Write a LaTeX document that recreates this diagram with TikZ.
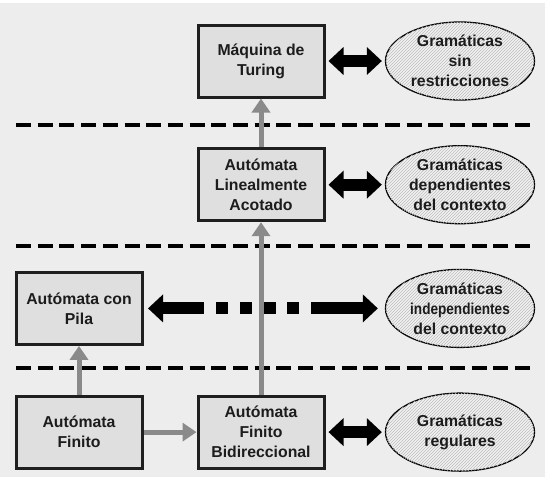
\documentclass[tikz,border=0pt]{standalone}
\usepackage{fontspec}
\setmainfont{Liberation Sans}
\usepackage{graphicx}
\usetikzlibrary{positioning,shapes.geometric,arrows.meta,patterns}

\definecolor{fondo}{HTML}{EDEDED}
\definecolor{relleno}{HTML}{DFDFDF}
\definecolor{borde}{HTML}{1F1F1F}
\definecolor{flecha}{HTML}{8A8A8A}
\definecolor{elipse}{HTML}{F2F2F2}
\definecolor{rayado}{HTML}{BDBDBD}
\definecolor{texto}{HTML}{1C1C1C}

\begin{document}
\begin{tikzpicture}[x=1pt, y=-1pt, node distance=123.7pt,
		caja/.style={rectangle,draw=borde,line width=3pt,fill=relleno,
			minimum width=126pt,minimum height=72pt,align=center,text=texto,
			font=\bfseries\fontsize{15.8}{20}\selectfont},
		gramatica/.style={ellipse,draw=black,line width=1.3pt,fill=elipse,
			postaction={pattern=north east lines,pattern color=rayado},
			minimum width=149pt,minimum height=78pt,inner xsep=0pt,inner ysep=-6pt,
			align=center,text=texto,font=\bfseries\fontsize{15.8}{20}\selectfont},
		sube/.style={draw=flecha,line width=5pt,-{Triangle[length=14pt,width=18pt]}},
		equiv/.style={draw=black,line width=12pt,
			{Triangle[length=15pt,width=27pt]}-{Triangle[length=15pt,width=27pt]},
			shorten <=3pt,shorten >=3pt},
		nivel/.style={draw=black,line width=3.5pt,dash pattern=on 15pt off 6.7pt}]

	% fondo
	\useasboundingbox (0,0) rectangle (545,480);
	\fill[white] (0,0) rectangle (545,480);
	\fill[fondo] (0,3) rectangle (545,477);

	% automatas
	\node[caja] (mt) at (261,61) {M\'aquina de\\Turing};
	\node[caja] (ala) [below of=mt] {Aut\'omata\\Linealmente\\Acotado};
	\node[caja] (afb) [below of=ala, node distance=247.4pt] {Aut\'omata\\Finito\\Bidireccional};
	\node[caja] (af) [left of=afb, node distance=182pt] {Aut\'omata\\Finito};
	\node[caja] (ap) [above of=af] {Aut\'omata con\\Pila};

	% gramaticas
	\node[gramatica] (g1) [right of=mt, node distance=199pt] {Gram\'aticas\\sin\\restricciones};
	\node[gramatica] (g2) [right of=ala, node distance=199pt] {Gram\'aticas\\dependientes\\del contexto};
	\node[gramatica] (g3) [right of=ap, node distance=381pt] {Gram\'aticas\\\scalebox{0.86}[1]{independientes}\\del contexto};
	\node[gramatica] (g4) [right of=afb, node distance=199pt] {Gram\'aticas\\regulares};

	% niveles
	\foreach \y in {125,246,368}
		\draw[nivel] (16,\y) -- (532,\y);

	% equivalencias
	\draw[equiv] (mt) -- (g1);
	\draw[equiv] (ala) -- (g2);
	\draw[equiv] (afb) -- (g4);
	\draw[equiv, shorten <=4.5pt, shorten >=7pt,
		dash pattern=on 42pt off 12pt on 12pt off 12pt on 12pt off 11pt on 13pt off 11pt on 12pt off 12pt on 200pt]
		(ap) -- (g3);

	% jerarquia
	\draw[sube] (af) -- (ap);
	\draw[sube] (af) -- (afb);
	\draw[sube] (afb) -- (ala);
	\draw[sube] (ala) -- (mt);
\end{tikzpicture}
\end{document}
